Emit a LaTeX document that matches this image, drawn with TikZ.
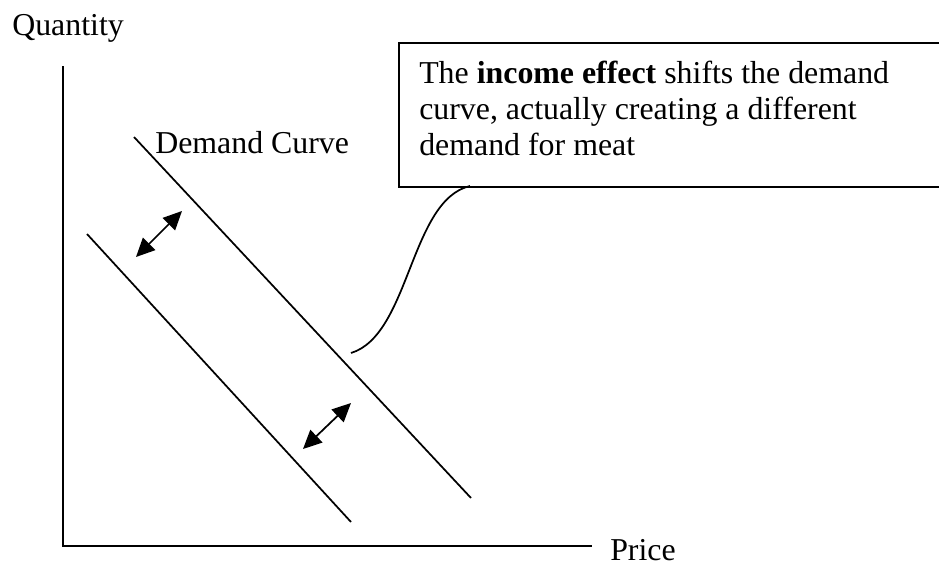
\documentclass[tikz,border=0pt]{standalone}
\usepackage{fontspec}
\setmainfont{Liberation Serif}
\usetikzlibrary{arrows.meta}

\begin{document}
\begin{tikzpicture}[
        x=0.75pt, y=-0.75pt,
        every node/.style={font=\fontsize{23.9}{27}\selectfont},
        label/.style={anchor=base west, inner sep=0pt},
        axis/.style={line width=1.5pt},
        curve/.style={line width=1.3pt},
        shiftarrow/.style={{Triangle[length=14pt, width=13pt]}-{Triangle[length=14pt, width=13pt]}, line width=1.3pt},
        callout/.style={rectangle, draw, line width=1.8pt, anchor=north west, minimum width=450pt, minimum height=108pt}
    ]
    \useasboundingbox (0,0) rectangle (939,564);

    % Define axes
    \coordinate (top) at (63,66);
    \coordinate (origin) at (63,546);
    \coordinate (right) at (592,546);
    \draw[axis] (top) -- (origin) -- (right);
    \node[label] (quantity) at (12,35) {Quantity};
    \node[label] (price) at (610,560) {Price};

    % Define demand curves
    \coordinate (d1a) at (134,137);
    \coordinate (d1b) at (471,498);
    \coordinate (d2a) at (87,234);
    \coordinate (d2b) at (351,522);
    \draw[curve] (d1a) -- (d1b);
    \draw[curve] (d2a) -- (d2b);
    \node[label] (demand) at (155,153) {Demand Curve};

    % Shift arrows
    \coordinate (s1a) at (136,257);
    \coordinate (s1b) at (182,211);
    \coordinate (s2a) at (303,449);
    \coordinate (s2b) at (351,403);
    \draw[shiftarrow] (s1a) -- (s1b);
    \draw[shiftarrow] (s2a) -- (s2b);

    % Callout
    \node[callout] (box) at (398,42) {};
    \node[anchor=north west, align=left, inner sep=0pt] (note) at (419,61)
        {The \textbf{income effect} shifts the demand\\
         curve, actually creating a different\\
         demand for meat};
    \coordinate (tip) at (351,353);
    \coordinate (hook) at (470,186);
    \draw[curve] (tip) .. controls (410,335) and (410,200) .. (hook);

\end{tikzpicture}
\end{document}
